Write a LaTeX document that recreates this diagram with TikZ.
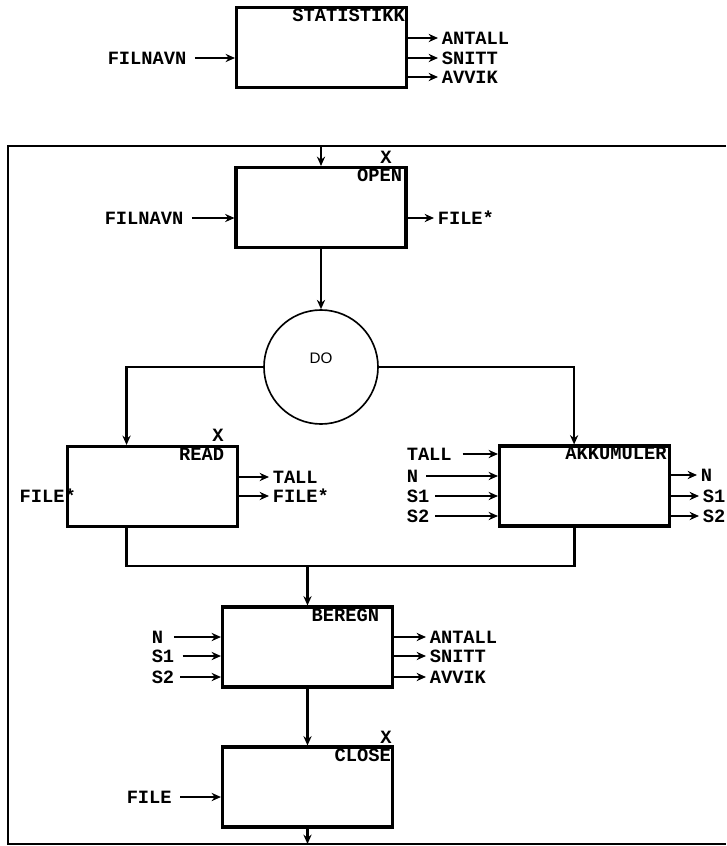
\documentclass[tikz,border=0pt]{standalone}
\usepackage{fontspec}
\setmonofont{Liberation Mono}
\setsansfont{Liberation Sans}
\usetikzlibrary{positioning,calc,arrows.meta}

\begin{document}
\begin{tikzpicture}[
            x=0.03cm, y=-0.03cm,
            box/.style={draw, rectangle, minimum width=5.1cm, minimum height=2.4cm, line width=2.6pt},
            title/.style={font=\ttfamily\bfseries\fontsize{16}{18}\selectfont, inner sep=2.5pt},
            io/.style={font=\ttfamily\bfseries\fontsize{16}{18}\selectfont, inner sep=3pt},
            arrow/.style={-{Stealth[length=8pt,width=7pt]}, line width=2.2pt},
            line/.style={line width=2.4pt},
            frame/.style={line width=2pt}
        ]
            \useasboundingbox (0,0) rectangle (726,846);

            % Module head
            \node[box] (stat) at (321.5,47.5) {};
            \node[title, below left=0pt and 0pt of stat.north east] (statlbl) {STATISTIKK};
            \node[io, anchor=west] (fn0) at (104,58) {FILNAVN};
            \node[io, anchor=west] (ant0) at (438,38) {ANTALL};
            \node[io, anchor=west] (sni0) at (438,58) {SNITT};
            \node[io, anchor=west] (avv0) at (438,77) {AVVIK};
            \draw[arrow, shorten <=4pt] (fn0.east) -- (fn0 -| stat.west);
            \draw[arrow] (ant0 -| stat.east) -- (ant0.west);
            \draw[arrow] (sni0 -| stat.east) -- (sni0.west);
            \draw[arrow] (avv0 -| stat.east) -- (avv0.west);

            % Body frame
            \draw[frame] (726,146) -- (8,146) -- (8,844) -- (726,844);
            \coordinate (entry) at (321,146);
            \coordinate (exit) at (307.5,844);

            % Boxes
            \node[box] (open) at (321,207.5) {};
            \node[box] (read) at (152.5,486.5) {};
            \node[box] (akk) at (584.5,486) {};
            \node[box] (beregn) at (307.5,647) {};
            \node[box] (close) at (307.5,787) {};
            \node[draw, circle, minimum size=3.42cm, line width=1.4pt] (do) at (321,367) {};
            \node[font=\sffamily\fontsize{13}{14}\selectfont] (dolbl) at (321,358) {DO};

            \node[title, below left=0pt and 2pt of open.north east] (openlbl) {OPEN};
            \node[title, below left=0pt and 10pt of read.north east] (readlbl) {READ};
            \node[title, below left=0pt and 1pt of akk.north east] (akklbl) {AKKUMULER};
            \node[title, below left=0pt and 10pt of beregn.north east] (bereglbl) {BEREGN};
            \node[title, below left=0pt and 0pt of close.north east] (closelbl) {CLOSE};

            % X marks
            \node[title] (xopen) at (386,157) {X};
            \node[title] (xread) at (218,435) {X};
            \node[title] (xclose) at (386,737) {X};

            % Flow
            \coordinate (rtop) at ($(read.north west)!0.35!(read.north east)$);
            \coordinate (atop) at ($(akk.north west)!0.44!(akk.north east)$);
            \coordinate (join) at (307.5,566);
            \draw[arrow] (entry) -- (open.north);
            \draw[arrow] (open.south) -- (do.north);
            \draw[arrow] (do.west) -| (rtop);
            \draw[arrow] (do.east) -| (atop);
            \draw[line] (read.south -| rtop) |- (join) -| (akk.south -| atop);
            \draw[arrow] (join) -- (beregn.north);
            \draw[arrow] (beregn.south) -- (close.north);
            \draw[arrow] (close.south) -- (exit);

            % OPEN
            \node[io, anchor=west] (fn1) at (101,218) {FILNAVN};
            \node[io, anchor=west] (fout1) at (434,218) {FILE*};
            \draw[arrow, shorten <=4pt] (fn1.east) -- (fn1 -| open.west);
            \draw[arrow] (fout1 -| open.east) -- (fout1.west);

            % READ
            \node[io, anchor=west] (fin2) at (16,496) {FILE*};
            \node[io, anchor=west] (tout2) at (269,477) {TALL};
            \node[io, anchor=west] (fout2) at (269,496) {FILE*};
            \draw[arrow] (tout2 -| read.east) -- (tout2.west);
            \draw[arrow] (fout2 -| read.east) -- (fout2.west);

            % AKKUMULER
            \node[io, anchor=west] (tin3) at (403,454) {TALL};
            \node[io, anchor=west] (nin3) at (403,476) {N};
            \node[io, anchor=west] (s1in3) at (403,496) {S1};
            \node[io, anchor=west] (s2in3) at (403,516) {S2};
            \node[io, anchor=west] (nout3) at (697,475) {N};
            \node[io, anchor=west] (s1out3) at (699,496) {S1};
            \node[io, anchor=west] (s2out3) at (699,516) {S2};
            \draw[arrow, shorten <=6pt] (tin3.east) -- (tin3 -| akk.west);
            \draw[arrow, shorten <=4pt] (nin3.east) -- (nin3 -| akk.west);
            \draw[arrow, shorten <=2pt] (s1in3.east) -- (s1in3 -| akk.west);
            \draw[arrow, shorten <=2pt] (s2in3.east) -- (s2in3 -| akk.west);
            \draw[arrow] (nout3 -| akk.east) -- (nout3.west);
            \draw[arrow] (s1out3 -| akk.east) -- (s1out3.west);
            \draw[arrow] (s2out3 -| akk.east) -- (s2out3.west);

            % BEREGN
            \node[io, anchor=west] (nin4) at (148,637) {N};
            \node[io, anchor=west] (s1in4) at (148,656) {S1};
            \node[io, anchor=west] (s2in4) at (148,677) {S2};
            \node[io, anchor=west] (ant4) at (426,637) {ANTALL};
            \node[io, anchor=west] (sni4) at (426,656) {SNITT};
            \node[io, anchor=west] (avv4) at (426,677) {AVVIK};
            \draw[arrow, shorten <=6pt] (nin4.east) -- (nin4 -| beregn.west);
            \draw[arrow, shorten <=4pt] (s1in4.east) -- (s1in4 -| beregn.west);
            \draw[arrow, shorten <=2pt] (s2in4.east) -- (s2in4 -| beregn.west);
            \draw[arrow] (ant4 -| beregn.east) -- (ant4.west);
            \draw[arrow] (sni4 -| beregn.east) -- (sni4.west);
            \draw[arrow] (avv4 -| beregn.east) -- (avv4.west);

            % CLOSE
            \node[io, anchor=west] (fin5) at (123,797) {FILE};
            \draw[arrow, shorten <=4pt] (fin5.east) -- (fin5 -| close.west);
        \end{tikzpicture}
\end{document}
